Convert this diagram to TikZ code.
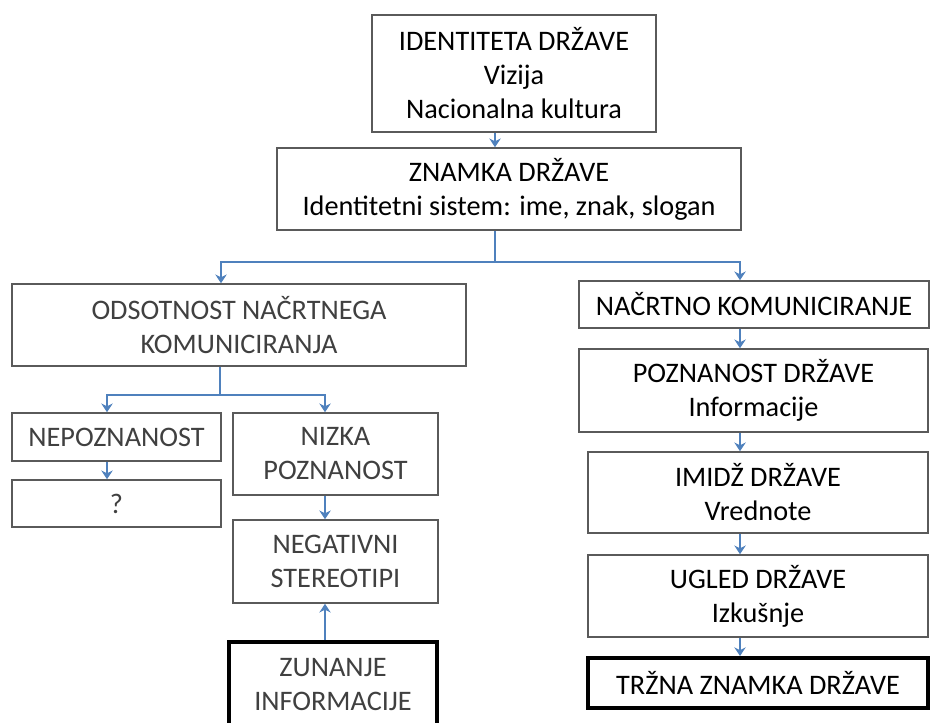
\documentclass[tikz,border=0pt]{standalone}
\usepackage{fontspec}
\setmainfont{Carlito}
\usepackage{xcolor}
\usepackage{tikz}
\usetikzlibrary{arrows.meta}

\definecolor{flowblue}{HTML}{4F81BD}
\definecolor{boxgray}{HTML}{5A5A5A}
\definecolor{lighttext}{HTML}{404040}

\tikzset{
    box/.style={draw=boxgray, line width=1.2pt, align=center, inner sep=0pt,
        font=\fontsize{21.2}{25.5}\selectfont},
    lightbox/.style={box, text=lighttext},
    endbox/.style={box, draw=black, line width=3pt},
    flow/.style={draw=flowblue, line width=2pt},
    flowarrow/.style={flow, -{Stealth[length=6.5pt,width=8.5pt]}}
}

\begin{document}
\begin{tikzpicture}[x=0.75pt, y=-0.75pt]
        \path[use as bounding box, fill=white] (0,0) rectangle (930,722);

        \node[box, minimum width=213pt, minimum height=87.75pt] (ident) at (514,73.5) {IDENTITETA DRŽAVE\\Vizija\\Nacionalna kultura};
        \node[box, minimum width=348pt, minimum height=61.5pt] (znamka) at (509,189) {ZNAMKA DRŽAVE\\Identitetni sistem: ime, znak, slogan};

        % left branch
        \node[lightbox, minimum width=340.5pt, minimum height=61.5pt] (odsot) at (239,325) {ODSOTNOST NAČRTNEGA\\KOMUNICIRANJA};
        \node[lightbox, minimum width=156.75pt, minimum height=36pt] (nepoz) at (116.5,437) {NEPOZNANOST};
        \node[lightbox, minimum width=156.75pt, minimum height=35.25pt] (vpr) at (116.5,503.5) {?};
        \node[lightbox, minimum width=153.75pt, minimum height=61.5pt] (nizka) at (335.5,454) {NIZKA\\POZNANOST};
        \node[lightbox, minimum width=153.75pt, minimum height=62.25pt] (negat) at (335.5,561.5) {NEGATIVNI\\STEREOTIPI};
        \node[endbox, text=lighttext, minimum width=156pt, minimum height=64.5pt] (zunanje) at (333,685) {ZUNANJE\\INFORMACIJE};

        % right branch
        \node[box, minimum width=262.5pt, minimum height=35.25pt] (nacrt) at (754,304.5) {NAČRTNO KOMUNICIRANJE};
        \node[box, minimum width=261.75pt, minimum height=62.25pt] (pozn) at (753.5,390.5) {POZNANOST DRŽAVE\\Informacije};
        \node[box, minimum width=255pt, minimum height=60.75pt] (imidz) at (758,492.5) {IMIDŽ DRŽAVE\\Vrednote};
        \node[box, minimum width=255pt, minimum height=61.5pt] (ugled) at (758,596) {UGLED DRŽAVE\\Izkušnje};
        \node[endbox, minimum width=255pt, minimum height=37.5pt] (trzna) at (758,683) {TRŽNA ZNAMKA DRŽAVE};

        \coordinate (midtop) at (495,262);
        \coordinate (lsplit) at (221,262);
        \coordinate (rsplit) at (740,262);
        \coordinate (midleft) at (220,395);
        \coordinate (farleft) at (107,395);
        \coordinate (inner) at (325,395);

        % ident -> znamka
        \draw[flowarrow] (ident.south -| midtop) -- (znamka.north -| midtop);

        % znamka -> odsot, nacrt
        \draw[flow] (znamka.south -| midtop) -- (midtop);
        \draw[flowarrow] (midtop) -| (lsplit |- odsot.north);
        \draw[flowarrow] (midtop) -| (rsplit |- nacrt.north);

        % odsot -> nepoz, nizka
        \draw[flow] (odsot.south -| midleft) -- (midleft);
        \draw[flowarrow] (midleft) -| (farleft |- nepoz.north);
        \draw[flowarrow] (midleft) -| (inner |- nizka.north);

        % nepoz -> vpr
        \draw[flowarrow] (nepoz.south -| farleft) -- (vpr.north -| farleft);

        % nizka -> negat, zunanje -> negat
        \draw[flowarrow] (nizka.south -| inner) -- (negat.north -| inner);
        \draw[flowarrow] (zunanje.north -| inner) -- (negat.south -| inner);

        % nacrt -> pozn -> imidz -> ugled -> trzna
        \draw[flowarrow] (nacrt.south -| rsplit) -- (pozn.north -| rsplit);
        \draw[flowarrow] (pozn.south -| rsplit) -- (imidz.north -| rsplit);
        \draw[flowarrow] (imidz.south -| rsplit) -- (ugled.north -| rsplit);
        \draw[flowarrow] (ugled.south -| rsplit) -- (trzna.north -| rsplit);
    \end{tikzpicture}
\end{document}
